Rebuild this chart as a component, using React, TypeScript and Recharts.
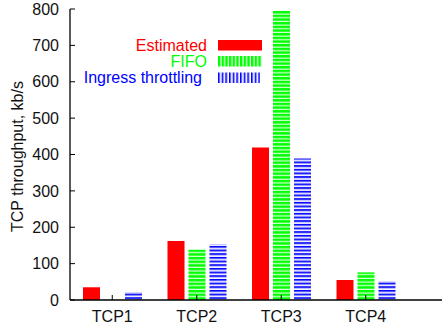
import React from "react";
import { BarChart, Bar, XAxis, YAxis, Legend } from "recharts";

const categories = ["TCP1", "TCP2", "TCP3", "TCP4"];
const estimated = [35, 162, 419, 55];
const fifo = [1, 139, 795, 76];
const ingress = [22, 154, 389, 52];
const yTicks = [0, 100, 200, 300, 400, 500, 600, 700, 800];
const seriesNames = ["Estimated", "FIFO", "Ingress throttling"];

const data = categories.map((c, i) => ({
  name: c,
  estimated: estimated[i],
  fifo: fifo[i],
  ingress: ingress[i],
}));

const FONT = "'Liberation Sans', Arial, Helvetica, sans-serif";
const RED = "#ff0000";
const GREEN = "#00ff00";
const BLUE = "#0000ff";

const XTick = (props: any) => {
  const { x, y, payload } = props;
  return (
    <g>
      <line x1={x} x2={x} y1={y} y2={y - 5} stroke="#000" strokeWidth={1} />
      <text x={x} y={y + 22} textAnchor="middle" fontSize={16} fontFamily={FONT} fill="#111">
        {payload.value}
      </text>
    </g>
  );
};

const TopTick = (props: any) => {
  const { x, y } = props;
  return <line x1={x} x2={x} y1={y} y2={y + 5} stroke="#000" strokeWidth={1} />;
};

const YTick = (props: any) => {
  const { x, y, payload } = props;
  return (
    <g>
      <line x1={x} x2={x + 5} y1={y} y2={y} stroke="#000" strokeWidth={1} />
      <text x={x - 11} y={y + 5.7} textAnchor="end" fontSize={16} fontFamily={FONT} fill="#111">
        {payload.value}
      </text>
    </g>
  );
};

const YLabel = (props: any) => {
  const vb = props.viewBox || { y: 9, height: 291 };
  const cx = 23;
  const cy = vb.y + vb.height / 2 + 2;
  return (
    <text
      x={cx}
      y={cy}
      transform={`rotate(-90 ${cx} ${cy})`}
      textAnchor="middle"
      fontSize={16}
      fontFamily={FONT}
      fill="#111"
    >
      TCP throughput, kb/s
    </text>
  );
};

const LegendContent = () => {
  const rows = [
    { name: seriesNames[0], color: RED, fill: RED, textEnd: 207, boxY: 40, base: 51 },
    { name: seriesNames[1], color: GREEN, fill: "url(#greenV)", textEnd: 207, boxY: 56, base: 66.5 },
    { name: seriesNames[2], color: BLUE, fill: "url(#blueV)", textEnd: 202, boxY: 72.5, base: 82.5 },
  ];
  return (
    <svg width={442} height={100} style={{ display: "block" }}>
      <defs>
        <pattern id="greenV" patternUnits="userSpaceOnUse" width={3.67} height={10} x={218}>
          <rect x={0} y={0} width={2.5} height={10} fill={GREEN} />
          <rect x={2.5} y={0} width={0.5} height={10} fill="#a0ffa0" />
        </pattern>
        <pattern id="blueV" patternUnits="userSpaceOnUse" width={3.67} height={10} x={218}>
          <rect x={0} y={0} width={1.6} height={10} fill={BLUE} />
          <rect x={1.6} y={0} width={0.6} height={10} fill="#9090ff" />
        </pattern>
      </defs>
      {rows.map((r, i) => (
        <g key={i}>
          <text x={r.textEnd} y={r.base} textAnchor="end" fontSize={16} fontFamily={FONT} fill={r.color}>
            {r.name}
          </text>
          <rect x={218} y={r.boxY} width={i === 2 ? 42 : 44} height={10.5} fill={r.fill} />
        </g>
      ))}
    </svg>
  );
};

export default function App() {
  return (
    <div style={{ position: "absolute", left: 0, top: 0, width: 442, height: 327, background: "#fff" }}>
      <BarChart
        width={442}
        height={327}
        data={data}
        margin={{ top: 9, right: 0, left: 0, bottom: 0 }}
        barSize={17}
        barGap={4}
      >
        <defs>
          <pattern id="greenH" patternUnits="userSpaceOnUse" width={10} height={3.67}>
            <rect x={0} y={0} width={10} height={2.6} fill={GREEN} />
            <rect x={0} y={2.6} width={10} height={0.5} fill="#b0ffb0" />
          </pattern>
          <pattern id="blueH" patternUnits="userSpaceOnUse" width={10} height={3.67}>
            <rect x={0} y={0} width={10} height={1.7} fill={BLUE} />
            <rect x={0} y={1.7} width={10} height={0.6} fill="#9090ff" />
          </pattern>
        </defs>
        <XAxis
          dataKey="name"
          height={27}
          padding={{ left: 0, right: 34 }}
          tickSize={0}
          tickMargin={0}
          tickLine={false}
          axisLine={{ stroke: "#000", strokeWidth: 1.3 }}
          tick={<XTick />}
          interval={0}
        />
        <XAxis
          dataKey="name"
          xAxisId="top"
          orientation="top"
          height={0}
          padding={{ left: 0, right: 34 }}
          tickSize={0}
          tickMargin={0}
          tickLine={false}
          axisLine={{ stroke: "#000", strokeWidth: 1.3 }}
          tick={<TopTick />}
          interval={0}
        />
        <YAxis
          width={70}
          domain={[0, 800]}
          ticks={yTicks}
          tickSize={0}
          tickMargin={0}
          tickLine={false}
          axisLine={{ stroke: "#000", strokeWidth: 1.3 }}
          tick={<YTick />}
          interval={0}
          label={<YLabel />}
        />
        <Legend
          layout="horizontal"
          verticalAlign="middle"
          align="center"
          wrapperStyle={{ left: 0, top: 0, width: 442, height: 100 }}
          content={<LegendContent />}
        />
        <Bar dataKey="estimated" name={seriesNames[0]} fill={RED} isAnimationActive={false} />
        <Bar dataKey="fifo" name={seriesNames[1]} fill="url(#greenH)" isAnimationActive={false} />
        <Bar dataKey="ingress" name={seriesNames[2]} fill="url(#blueH)" isAnimationActive={false} />
      </BarChart>
    </div>
  );
}
